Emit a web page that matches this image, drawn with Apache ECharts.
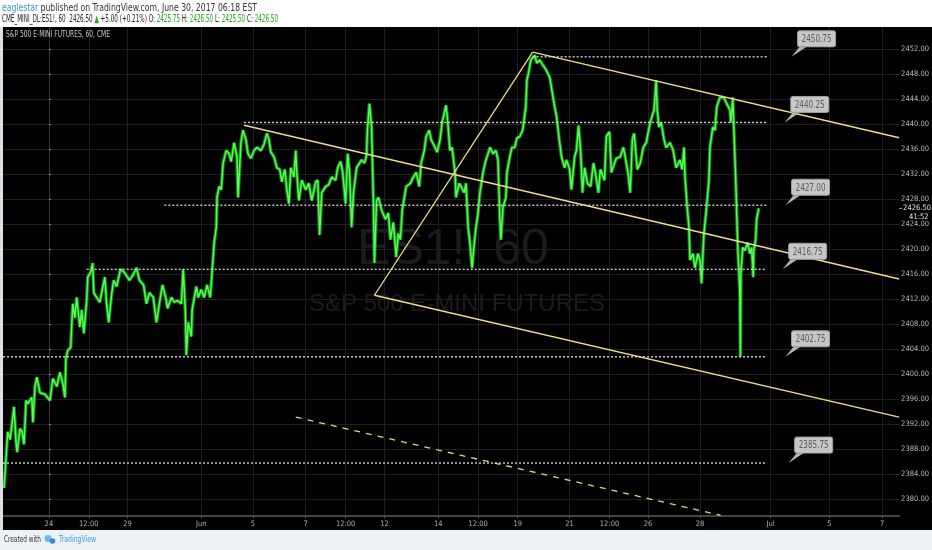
<!DOCTYPE html>
<html><head><meta charset="utf-8">
<script src="https://cdn.jsdelivr.net/npm/echarts@6/dist/echarts.min.js"></script>
<style>html,body{margin:0;padding:0;background:#000;}#c{width:932px;height:550px;}</style>
</head><body><div id="c"></div>
<script>
// x unit: trading days since May 24 (weekends skipped, as on the TradingView axis)
const tickDays = [0, 1.52, 3.0, 5.81, 7.78, 9.79, 11.31, 12.79, 14.84, 16.36, 17.87, 19.85, 21.37, 22.84, 24.82, 27.51, 29.75, 31.76];
const tickTexts = ['24','12:00','29','Jun','5','7','12:00','12','14','12:00','19','21','12:00','26','28','Jul','5','7'];
const priceTicks = [2380,2384,2388,2392,2396,2400,2404,2408,2412,2416,2420,2424,2428,2432,2436,2440,2444,2448,2452];

// ES1! 60-minute price trace [day, price]
const priceTrace = [
[-1.71,2381.75],[-1.57,2390.75],[-1.48,2389.5],[-1.33,2394.75],[-1.25,2389],[-1.21,2387.5],[-1.10,2391.25],[-1.02,2390.75],[-0.95,2388.75],[-0.87,2395.75],[-0.80,2395.25],[-0.65,2396.25],[-0.61,2392.25],[-0.53,2398],[-0.46,2399.5],[-0.34,2397],[-0.15,2396.75],[0.04,2395.75],[0.15,2399.25],[0.30,2398],[0.42,2400.25],[0.53,2398.5],[0.61,2396.25],[0.65,2402.5],[0.72,2403.75],[0.83,2404.25],[0.91,2411.25],[0.99,2409],[1.06,2412.25],[1.18,2407.5],[1.25,2410.25],[1.33,2406.5],[1.44,2411.75],[1.48,2415.5],[1.59,2416.25],[1.67,2417.75],[1.71,2413],[1.82,2412.25],[1.94,2411.5],[2.13,2415.5],[2.20,2411.25],[2.28,2408.25],[2.39,2412.75],[2.47,2415],[2.58,2414],[2.73,2416.75],[2.88,2416.25],[3.07,2415],[3.19,2415.75],[3.34,2417],[3.45,2415],[3.61,2414.25],[3.72,2411.25],[3.83,2413],[3.98,2412.25],[4.10,2408.25],[4.21,2411.25],[4.33,2414.25],[4.48,2411.75],[4.52,2410.5],[4.67,2412.25],[4.78,2411.5],[4.90,2411.75],[5.05,2411.25],[5.12,2416.75],[5.20,2410.25],[5.24,2403],[5.31,2408.25],[5.43,2406],[5.46,2410.25],[5.62,2414],[5.69,2412.25],
[5.81,2413.5],[5.92,2412.25],[6.03,2414.25],[6.15,2412.25],[6.22,2416.25],[6.30,2421],[6.38,2423.5],[6.41,2428.25],[6.49,2430],[6.57,2429.5],[6.64,2433.75],[6.76,2435.75],[6.87,2435.25],[6.95,2434],[7.06,2437],[7.17,2434.75],[7.21,2428.25],[7.32,2437],[7.40,2439],[7.51,2437.5],[7.59,2435.25],[7.70,2434.5],[7.82,2435.75],[7.93,2436.25],[8.08,2435.75],[8.20,2436.75],[8.31,2438.5],[8.39,2437.5],[8.46,2435.5],[8.58,2434.75],[8.69,2433],[8.80,2432.75],[8.88,2430.75],[8.99,2432.75],[9.07,2429.5],[9.15,2427.25],[9.22,2433],[9.34,2431.5],[9.41,2435.75],[9.45,2432.25],[9.53,2427.75],[9.64,2431],[9.79,2429.5],[9.91,2430.5],[10.02,2427.75],[10.17,2430.75],[10.25,2431],[10.32,2422.25],[10.40,2429],[10.55,2430],[10.66,2430.25],[10.78,2431.5],[10.93,2431],[11.01,2433],[11.12,2434],[11.20,2432.25],[11.31,2427.25],[11.39,2435.25],[11.46,2432.25],[11.54,2423.5],[11.61,2429],[11.73,2433],[11.80,2433],[11.92,2434.25],[12.03,2433.75],[12.11,2435],[12.14,2439],[12.22,2443.25],[12.30,2439.5],[12.37,2427.75],[12.41,2417.75],[12.49,2427.75],[12.56,2428.25],[12.68,2426.25],
[12.83,2424.75],[12.94,2425.75],[13.02,2421.5],[13.13,2424.25],[13.24,2418.75],[13.32,2422.5],[13.40,2421.5],[13.47,2426.25],[13.62,2430],[13.78,2430.5],[13.89,2431.5],[14.00,2432.25],[14.12,2430],[14.19,2433.75],[14.31,2435.75],[14.38,2438],[14.50,2439],[14.57,2437.5],[14.72,2436.25],[14.80,2435.5],[14.91,2437.5],[14.99,2440.25],[15.10,2442.25],[15.14,2443],[15.22,2439.5],[15.29,2435.75],[15.37,2436.25],[15.48,2432.25],[15.52,2428.25],[15.64,2430.5],[15.71,2430],[15.83,2429],[15.90,2430.5],[15.98,2423.5],[16.05,2421],[16.13,2417],[16.20,2420.25],[16.28,2423.5],[16.36,2425.75],[16.43,2429],[16.55,2432.25],[16.66,2434.25],[16.74,2435.25],[16.81,2436.25],[16.93,2435.25],[17.04,2435.75],[17.12,2434.25],[17.19,2424.75],[17.23,2421.5],[17.31,2426.75],[17.42,2428.25],[17.46,2432.25],[17.57,2434.75],[17.65,2436.25],[17.76,2436.25],[17.84,2437.75],[17.95,2438],[18.06,2439],[18.18,2442.75],[18.22,2447],[18.29,2448.25],[18.37,2450.25],[18.52,2451],[18.60,2449.75],[18.71,2450.25],[18.82,2449.5],[18.94,2448.75],[19.09,2447.5],[19.17,2445.5],[19.28,2442.75],[19.35,2441.25],[19.47,2437],[19.54,2434.75],
[19.66,2433],[19.73,2434.25],[19.85,2432.75],[19.92,2429.5],[20.04,2434.75],[20.11,2435.75],[20.19,2439.75],[20.27,2435.75],[20.34,2429],[20.42,2433],[20.53,2430.5],[20.65,2430],[20.76,2433.75],[20.83,2432.25],[20.95,2429],[21.02,2432.75],[21.18,2431],[21.25,2438],[21.37,2438.75],[21.44,2432.25],[21.56,2433.75],[21.63,2434.5],[21.78,2434.75],[21.90,2436.25],[21.97,2434.75],[22.09,2431.75],[22.16,2429],[22.24,2437.5],[22.31,2438.5],[22.43,2432.75],[22.54,2433.75],[22.66,2436.25],[22.77,2437],[22.92,2440.25],[23.07,2442.25],[23.15,2447],[23.19,2442.25],[23.26,2439.5],[23.34,2440.25],[23.45,2437.5],[23.53,2436.25],[23.68,2437],[23.80,2435.75],[23.91,2433],[24.06,2434.25],[24.14,2432.75],[24.21,2436.25],[24.25,2431.5],[24.33,2426.75],[24.40,2423.5],[24.44,2418.25],[24.55,2419.25],[24.63,2417],[24.74,2419.25],[24.82,2418.25],[24.88,2414.5],[24.93,2419.25],[24.97,2422.5],[25.05,2425.75],[25.16,2431],[25.20,2436.25],[25.31,2439.5],[25.39,2439],[25.46,2442.75],[25.58,2444.25],[25.73,2444.25],[25.84,2443.25],[25.96,2442.25],[26.00,2440.25],[26.07,2444.25],[26.11,2439.5],[26.19,2430],[26.26,2420.25],[26.30,2416.75],[26.34,2413],[26.36,2402.75],[26.38,2416.25],[26.45,2420.25],[26.53,2419.75],[26.64,2421],[26.72,2419.25],[26.79,2420.25],[26.85,2415.5],[26.87,2419.75],[26.94,2421.5],[26.98,2424.75],[27.06,2426.5]
];

// horizontal dotted levels
const levelPrices = [2450.75, 2440.25, 2427.00, 2416.75, 2402.75, 2385.75];
const levelStartDays = [18.44, 7.44, 4.40, 1.44, -1.75, -1.75];
const levelEndDay = 27.36;
const calloutDays = [28.31, 28.05, 28.08, 27.97, 28.08, 28.20];

// channel drawings [day, price]
const pitchDiagonal = [[12.41, 2412.6], [18.44, 2451.5]];
const channelUpper = [[18.44, 2451.5], [32.41, 2437.8]];
const channelMiddle = [[7.44, 2439.8], [32.41, 2415.2]];
const channelLower = [[12.41, 2412.6], [32.41, 2393.1]];
const channelDashed = [[9.41, 2393.1], [25.6, 2377.4]];

const lastPrice = 2426.50;
const lastDay = 27.06;
const countdown = '41:52';

const NF = "'Liberation Sans Narrow','DejaVu Sans Condensed','Liberation Sans',sans-serif";
const AF = "'Liberation Sans',Arial,sans-serif";

// text measuring, used to squeeze text to the reference's narrow widths
const mctx = document.createElement('canvas').getContext('2d');
function tw(text, font) { mctx.font = font; return mctx.measureText(text).width; }
function fitScale(text, font, target) { return target / tw(text, font); }
function clamp(v, a, b) { return Math.max(a, Math.min(b, v)); }

const HF = '10px ' + NF;
const line1 = 'eaglestar published on TradingView.com, June 30, 2017 06:18 EST';
const line2 = 'CME_MINI_DL:ES1!, 60  2426.50 ▲ +5.00 (+0.21%) O: 2425.75 H: 2426.50 L: 2425.50 C: 2426.50';
const titleText = 'S&P 500 E-MINI FUTURES, 60, CME';
const CF = '11px ' + NF;
const calloutScale = clamp(fitScale('2450.75', CF, 30), 0.6, 1.2);
const yFont = clamp(8.5 * 22.5 / tw('2452.00', '8.5px ' + NF), 7.5, 9);
const xFont = clamp(8 * 14 / tw('12:00', '8px ' + NF), 7.5, 9);

const chart = echarts.init(document.getElementById('c'), null, {renderer:'canvas'});

function segSeries(data, color, type, width) {
  return {type:'line', data: data, silent:true, symbol:'none', animation:false, z:4,
    lineStyle:{color: color, width: width || 1.3, type: type || 'solid'}};
}

const series = [];
levelPrices.forEach((p, i) => {
  series.push(segSeries([[levelStartDays[i], p], [levelEndDay, p]], '#cfcfcf', [2, 2], 1.4));
});
series.push({type:'line', data: priceTrace, symbol:'none', silent:true, animation:false, z:3,
  lineStyle:{color:'rgba(28,150,28,0.85)', width:3.6}});
series.push({type:'line', data: priceTrace, symbol:'none', silent:true, animation:false, z:3,
  lineStyle:{color:'#52ff52', width:1.5}});
series.push(segSeries(pitchDiagonal, '#f2dc8c'));
series.push(segSeries(channelUpper, '#f2dc8c'));
series.push(segSeries(channelMiddle, '#f2dc8c'));
series.push(segSeries(channelLower, '#f2dc8c'));
series.push(segSeries(channelDashed, '#e8d27c', [6, 6], 1.3));

series.push({
  type:'custom', silent:true, animation:false, z:6, clip:false,
  data: calloutDays.map((d, i) => [d, levelPrices[i]]),
  renderItem(params, api) {
    const p = api.coord([api.value(0), api.value(1)]);
    const bx = p[0] + 6, by = p[1] - 26, bw = 38, bh = 16;
    return {type:'group', children:[
      {type:'polygon', shape:{points:[[p[0], p[1]], [bx + 2, by + bh], [bx + 9, by + bh]]}, style:{fill:'#b4b4b4'}},
      {type:'rect', shape:{x:bx, y:by, width:bw, height:bh, r:2}, style:{fill:'#c6c6c6', stroke:'#a0a0a0', lineWidth:1}},
      {type:'text', x: bx + bw / 2, y: by + bh / 2 + 0.5, scaleX: calloutScale,
        style:{text: api.value(1).toFixed(2), x:0, y:0, align:'center', verticalAlign:'middle', fill:'#5c5c5c', font: CF}}
    ]};
  }
});

series.push({
  type:'custom', silent:true, animation:false, z:7, clip:false,
  data: [[lastDay, lastPrice]],
  renderItem(params, api) {
    const p = api.coord([api.value(0), api.value(1)]);
    const x0 = params.coordSys.x + params.coordSys.width;
    return {type:'group', children:[
      {type:'rect', shape:{x:x0 + 1, y:p[1] - 5, width:40, height:17}, style:{fill:'#000'}},
      {type:'rect', shape:{x:x0, y:p[1] - 0.5, width:3, height:1}, style:{fill:'#aaa'}},
      {type:'text', style:{text: api.value(1).toFixed(2), x:x0 + 4, y:p[1], align:'left', verticalAlign:'middle', fill:'#e6e6e6', font: yFont + 'px ' + NF}},
      {type:'text', style:{text: countdown, x:x0 + 10, y:p[1] + 9, align:'left', verticalAlign:'middle', fill:'#e6e6e6', font: yFont + 'px ' + NF}}
    ]};
  }
});

const option = {
  backgroundColor:'#000',
  animation:false,
  grid:{left:3, right:29, top:27, bottom:34, containLabel:false},
  xAxis:{type:'value', min:-1.75, max:32.41,
    axisLine:{show:true, lineStyle:{color:'#444', width:2}},
    axisTick:{show:true, length:2, lineStyle:{color:'#555'}, customValues: tickDays},
    axisLabel:{customValues: tickDays, color:'#b0b0b0', fontSize:xFont, fontFamily:NF, margin:4,
      formatter:(v) => { const i = tickDays.findIndex(t => Math.abs(t - v) < 1e-6); return i >= 0 ? tickTexts[i] : ''; }},
    splitLine:{show:true, lineStyle:{color:'#1f1f1f', width:1}}},
  yAxis:{type:'value', position:'right', min:2377.28, max:2455.52,
    axisLine:{show:true, lineStyle:{color:'#3a3a3a'}},
    axisTick:{show:true, length:2, inside:false, lineStyle:{color:'#888'}, customValues: priceTicks},
    axisLabel:{customValues: priceTicks, color:'#b8b8b8', fontSize:yFont, fontFamily:NF, margin:2,
      formatter:(v) => v.toFixed(2)},
    splitLine:{show:true, lineStyle:{color:'#1f1f1f', width:1}}},
  graphic:[
    {type:'text', z:1, silent:true, style:{text:'ES1!, 60', x:453, y:250, align:'center', verticalAlign:'middle', fill:'#1c1c1c', font:'50px ' + AF}},
    {type:'text', z:1, silent:true, style:{text:'S&P 500 E-MINI FUTURES', x:457, y:304, align:'center', verticalAlign:'middle', fill:'#1c1c1c', font:'24px ' + AF}},
    {type:'rect', z:100, silent:true, shape:{x:0, y:0, width:932, height:27}, style:{fill:'#ffffff'}},
    {type:'rect', z:100, silent:true, shape:{x:0, y:530, width:932, height:20}, style:{fill:'#eef2f7'}},
    {type:'rect', z:100, silent:true, shape:{x:0, y:27, width:3, height:503}, style:{fill:'#dde1e6'}},
    {type:'text', z:101, silent:true, x:2, y:8, scaleX: fitScale(line1, HF, 255),
      style:{x:0, y:0, verticalAlign:'middle', font:HF,
      text:'{b|eaglestar}{d| published on TradingView.com, June 30, 2017 06:18 EST}',
      rich:{b:{fill:'#3a8fd8', font:HF}, d:{fill:'#333', font:HF}}}},
    {type:'text', z:101, silent:true, x:2, y:19, scaleX: fitScale(line2, HF, 276),
      style:{x:0, y:0, verticalAlign:'middle', font:HF,
      text:'{d|CME_MINI_DL:ES1!, 60  2426.50 }{g|▲}{d| +5.00 (+0.21%) O: }{g|2425.75}{d| H: }{g|2426.50}{d| L: }{g|2425.50}{d| C: }{g|2426.50}',
      rich:{d:{fill:'#222', font:HF}, g:{fill:'#22a422', font:HF}}}},
    {type:'text', z:101, silent:true, x:6, y:35, scaleX: fitScale(titleText, '9px ' + NF, 104),
      style:{text:titleText, x:0, y:0, verticalAlign:'middle', fill:'#c8c8c8', font:'9px ' + NF}},
    {type:'text', z:101, silent:true, x:4, y:540, scaleX: fitScale('Created with', '9.5px ' + NF, 37),
      style:{text:'Created with', x:0, y:0, verticalAlign:'middle', fill:'#333', font:'9.5px ' + NF}},
    {type:'circle', z:101, silent:true, shape:{cx:48, cy:538.5, r:3.5}, style:{fill:'#6db8ef'}},
    {type:'circle', z:101, silent:true, shape:{cx:52.5, cy:541, r:2.8}, style:{fill:'#2d8bd8'}},
    {type:'text', z:101, silent:true, x:59, y:540, scaleX: fitScale('TradingView', '9.5px ' + NF, 37),
      style:{text:'TradingView', x:0, y:0, verticalAlign:'middle', fill:'#3a9ae0', font:'9.5px ' + NF}}
  ],
  series: series
};
chart.setOption(option);
</script>
</body></html>
